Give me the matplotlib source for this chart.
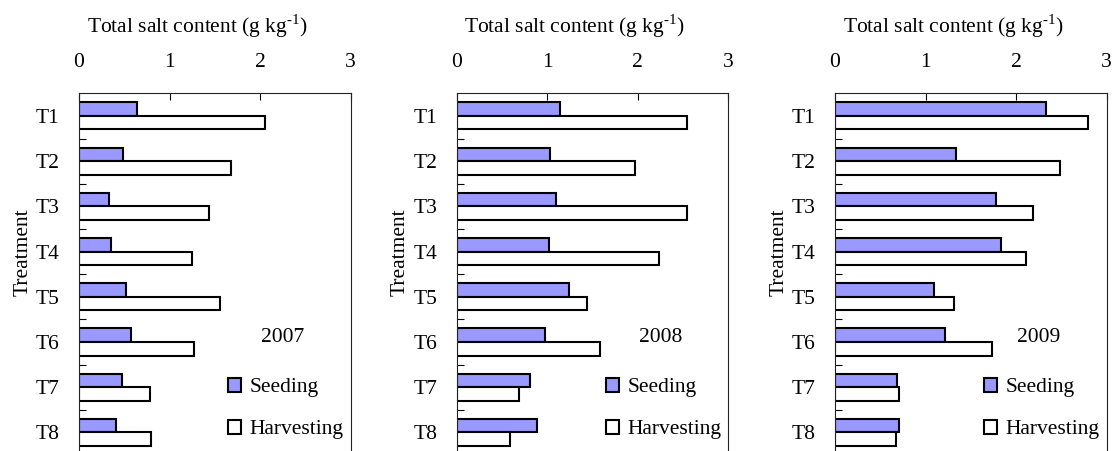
import matplotlib
matplotlib.use("Agg")
import matplotlib.pyplot as plt
import numpy as np

plt.rcParams['font.family'] = ['Liberation Serif', 'DejaVu Serif']
plt.rcParams['mathtext.fontset'] = 'custom'
plt.rcParams['mathtext.rm'] = 'Liberation Serif'

treatments = ['T1', 'T2', 'T3', 'T4', 'T5', 'T6', 'T7', 'T8']
years = ['2007', '2008', '2009']

# total salt content (g/kg) at seeding and at harvest, per year
seeding_2007 = [0.64, 0.49, 0.33, 0.35, 0.52, 0.58, 0.48, 0.41]
harvest_2007 = [2.05, 1.68, 1.44, 1.25, 1.56, 1.27, 0.78, 0.80]
seeding_2008 = [1.14, 1.03, 1.10, 1.02, 1.24, 0.98, 0.81, 0.89]
harvest_2008 = [2.54, 1.97, 2.54, 2.23, 1.44, 1.58, 0.69, 0.59]
seeding_2009 = [2.33, 1.34, 1.78, 1.83, 1.09, 1.21, 0.69, 0.71]
harvest_2009 = [2.80, 2.49, 2.19, 2.11, 1.32, 1.74, 0.71, 0.67]

seeding = [seeding_2007, seeding_2008, seeding_2009]
harvest = [harvest_2007, harvest_2008, harvest_2009]

W, H = 1112, 451
fig = plt.figure(figsize=(W / 100, H / 100), dpi=100)

lefts = [79, 456.7, 835]
ax_w = 271.5
ax_top = 93.3
ax_bot = 455

y = np.arange(len(treatments))
bh = 0.3
fs = 15.5

for i, yr in enumerate(years):
    ax = fig.add_axes([lefts[i] / W, 1 - ax_bot / H, ax_w / W, (ax_bot - ax_top) / H])
    b1 = ax.barh(y - bh / 2, seeding[i], height=bh, color='#9999ff',
                 edgecolor='black', linewidth=1.5, label='Seeding')
    b2 = ax.barh(y + bh / 2, harvest[i], height=bh, color='white',
                 edgecolor='black', linewidth=1.5, label='Harvesting')

    ax.set_xlim(0, 3)
    ax.set_ylim(len(treatments) - 0.5, -0.5)

    ax.xaxis.set_ticks_position('top')
    ax.xaxis.set_label_position('top')
    ax.set_xticks([0, 1, 2, 3])
    ax.tick_params(axis='x', direction='in', length=5, width=0.8, pad=15,
                   labelsize=fs)
    ax.set_xlabel(r'Total salt content (g kg$^{\text{-}1}$)', fontsize=fs)
    ax.xaxis.set_label_coords(0.435, 1.168)

    ax.set_yticks(y)
    ax.set_yticklabels(treatments)
    ax.set_yticks(y[:-1] + 0.5, minor=True)
    ax.tick_params(axis='y', which='major', length=0, pad=14, labelsize=fs)
    ax.tick_params(axis='y', which='minor', direction='in', length=5, width=0.8)
    ax.set_ylabel('Treatment', fontsize=fs)
    ax.yaxis.set_label_coords(-0.172, 0.56)

    for s in ax.spines.values():
        s.set_linewidth(0.8)
        s.set_color('#222222')

    ax.text(2.25, 4.9, yr, ha='center', va='center', fontsize=fs)
    ax.legend(handles=[b1, b2], loc='upper left', bbox_to_anchor=(0.55, 0.213),
              frameon=False, fontsize=fs, handlelength=0.6, handleheight=0.6,
              handletextpad=0.4, labelspacing=1.05, borderpad=0, borderaxespad=0)

fig.savefig('out.png', dpi=100)
